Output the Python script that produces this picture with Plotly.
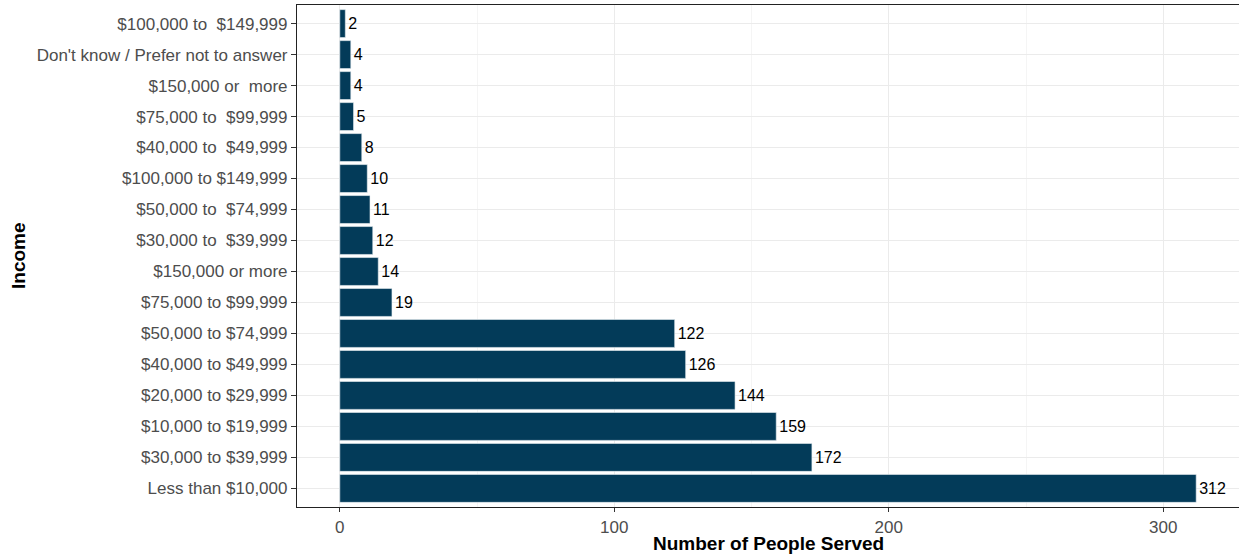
import plotly.graph_objects as go

# Top-to-bottom order as shown
categories = [
    "$100,000 to  $149,999",
    "Don't know / Prefer not to answer",
    "$150,000 or  more",
    "$75,000 to  $99,999",
    "$40,000 to  $49,999",
    "$100,000 to $149,999",
    "$50,000 to  $74,999",
    "$30,000 to  $39,999",
    "$150,000 or more",
    "$75,000 to $99,999",
    "$50,000 to $74,999",
    "$40,000 to $49,999",
    "$20,000 to $29,999",
    "$10,000 to $19,999",
    "$30,000 to $39,999",
    "Less than $10,000",
]
people_served = [2, 4, 4, 5, 8, 10, 11, 12, 14, 19, 122, 126, 144, 159, 172, 312]
x_ticks = [0, 100, 200, 300]

positions = list(range(len(categories)))
tick_text = [c.replace("  ", " \u00a0") for c in categories]

FONT = "Liberation Sans, Arial, sans-serif"

fig = go.Figure()
fig.add_trace(go.Bar(
    x=people_served,
    y=positions,
    orientation="h",
    width=0.9,
    marker=dict(color="#033b59", line=dict(color="#e8eef2", width=0.6)),
    text=[str(v) for v in people_served],
    textposition="outside",
    textfont=dict(family=FONT, size=16, color="black"),
    cliponaxis=False,
    hoverinfo="x+y",
))

fig.update_layout(
    width=1239, height=558,
    margin=dict(l=297, r=0, t=5, b=51, autoexpand=False),
    paper_bgcolor="white",
    plot_bgcolor="white",
    showlegend=False,
    bargap=0.1,
    font=dict(family=FONT, color="#4d4d4d"),
    annotations=[
        dict(text="<b>Number of People Served</b>", xref="paper", yref="paper",
             x=0.5, y=0, yshift=-36, xanchor="center", yanchor="middle",
             showarrow=False, font=dict(family=FONT, size=19, color="black")),
        dict(text="<b>Income</b>", xref="paper", yref="paper",
             x=0, xshift=-279, y=0.5, xanchor="center", yanchor="middle", textangle=-90,
             showarrow=False, font=dict(family=FONT, size=19, color="black")),
    ],
)

fig.update_xaxes(
    automargin=False,
    range=[-15.6, 327.6],
    tickvals=x_ticks,
    ticktext=[str(t) for t in x_ticks],
    tickfont=dict(family=FONT, size=17, color="#4d4d4d"),
    ticks="outside", ticklen=4, tickcolor="#333333", tickwidth=1,
    showgrid=True, gridcolor="#ebebeb", gridwidth=1,
    minor=dict(tickvals=[50, 150, 250], showgrid=True, gridcolor="#f5f5f5", gridwidth=0.8),
    showline=True, linecolor="#222222", linewidth=1.2, mirror=True,
    zeroline=False,
)

fig.update_yaxes(
    automargin=False,
    range=[15.6, -0.6],
    tickvals=positions,
    ticktext=tick_text,
    tickfont=dict(family=FONT, size=17, color="#4d4d4d"),
    ticks="outside", ticklen=5, tickcolor="#333333", tickwidth=1,
    showgrid=True, gridcolor="#ebebeb", gridwidth=1,
    showline=True, linecolor="#222222", linewidth=1.2, mirror=False,
    zeroline=False,
)

fig.write_html("out.html", config={"displayModeBar": False},
               post_script="document.body.style.margin='0';")
